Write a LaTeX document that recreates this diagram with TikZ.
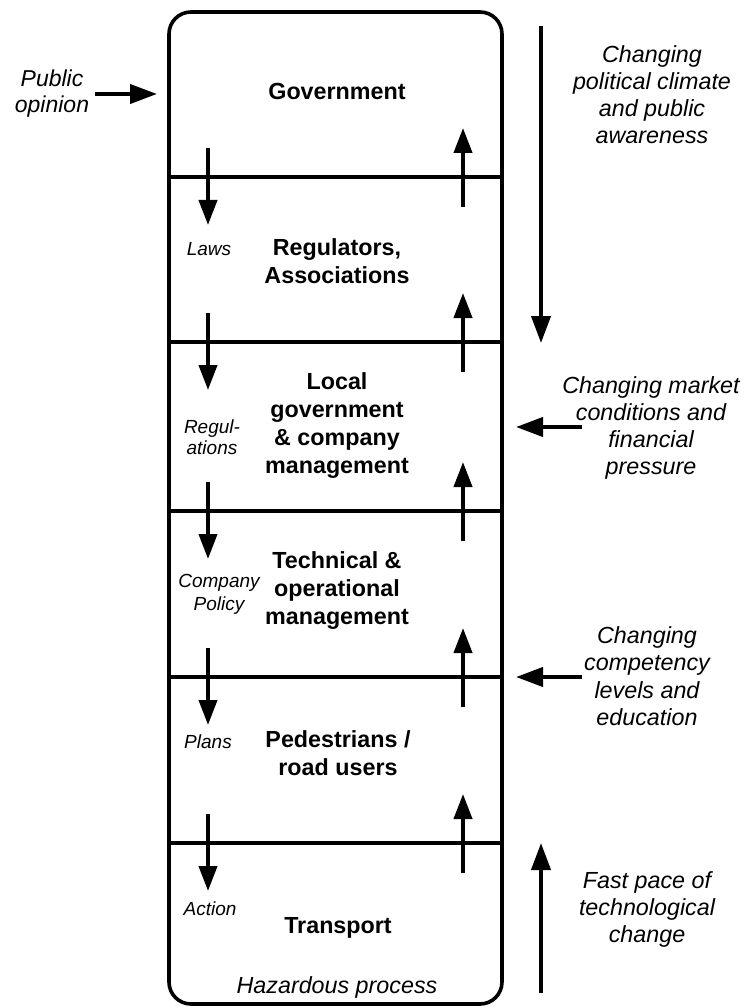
\documentclass[tikz,border=0pt]{standalone}
\usepackage{fontspec}
\setmainfont{Liberation Sans}
\usetikzlibrary{arrows.meta}
\begin{document}
\begin{tikzpicture}[x=1pt,y=-1pt,
  frame/.style={line width=3.6pt, rounded corners=22pt},
  divider/.style={line width=3.4pt},
  flow/.style={line width=4pt, -{Triangle[length=25pt,width=18pt]}},
  bigflow/.style={line width=4pt, -{Triangle[length=27pt,width=19pt]}},
  level/.style={font=\bfseries\fontsize{23.3}{28}\selectfont, align=center, inner sep=0pt},
  medium/.style={font=\itshape\fontsize{19}{21}\selectfont, align=center, inner sep=0pt},
  influence/.style={font=\itshape\fontsize{23.3}{27}\selectfont, align=center, inner sep=0pt}
]
\fill[white] (0,0) rectangle (745,1008);
\useasboundingbox (0,0) rectangle (745,1008);

% levels of the socio-technical system
\draw[frame] (169,12) rectangle (502,1004);
\foreach \y [count=\i] in {177,342,511,677,843} {
  \coordinate (dl\i) at (169,\y);
  \coordinate (dr\i) at (502,\y);
  \draw[divider] (dl\i) -- (dr\i);
  % control flowing down, feedback flowing up
  \coordinate (ds\i) at (208,\y-29);
  \coordinate (de\i) at (208,\y+48);
  \draw[flow] (ds\i) -- (de\i);
  \coordinate (us\i) at (463,\y+30);
  \coordinate (ue\i) at (463,\y-49);
  \draw[flow] (us\i) -- (ue\i);
}

\node[level, anchor=base] (gov) at (337,100) {Government};
\node[level] (reg) at (337,261) {Regulators,\\Associations};
\node[level] (loc) at (337,426) {Local\\government\\\& company\\management};
\node[level] (tech) at (337,591) {Technical \&\\operational\\management};
\node[level] (ped) at (338,753) {Pedestrians /\\road users};
\node[level, anchor=base] (trans) at (338,933) {Transport};
\node[font=\itshape\fontsize{23.3}{27}\selectfont, inner sep=0pt, anchor=base] (haz) at (337,993) {Hazardous process};

% what is passed down between levels
\node[medium, anchor=base] (laws) at (209,255) {Laws};
\node[medium] (regs) at (212,437) {Regul-\\ations};
\node[medium, font=\itshape\fontsize{19}{23}\selectfont] (pol) at (219,594) {Company\\Policy};
\node[medium, anchor=base] (plans) at (208,748) {Plans};
\node[medium, anchor=base] (act) at (210,915) {Action};

% external influences
\node[influence, font=\itshape\fontsize{23}{26}\selectfont] (pub) at (52,94) {Public\\opinion};
\coordinate (pubs) at (95,94);
\coordinate (pube) at (157,94);
\draw[bigflow] (pubs) -- (pube);

\node[influence] (polit) at (652,95) {Changing\\political climate\\and public\\awareness};
\coordinate (pols) at (541,26);
\coordinate (pole) at (541,343);
\draw[bigflow] (pols) -- (pole);

\node[influence] (market) at (651,428) {Changing market\\conditions and\\financial\\pressure};
\coordinate (mks) at (582,427);
\coordinate (mke) at (516,427);
\draw[bigflow] (mks) -- (mke);

\node[influence, font=\itshape\fontsize{23.3}{27.5}\selectfont] (comp) at (647,676) {Changing\\competency\\levels and\\education};
\coordinate (cps) at (582,677);
\coordinate (cpe) at (516,677);
\draw[bigflow] (cps) -- (cpe);

\node[influence] (techchg) at (647,909) {Fast pace of\\technological\\change};
\coordinate (tcs) at (541,993);
\coordinate (tce) at (541,843);
\draw[bigflow] (tcs) -- (tce);
\end{tikzpicture}
\end{document}
